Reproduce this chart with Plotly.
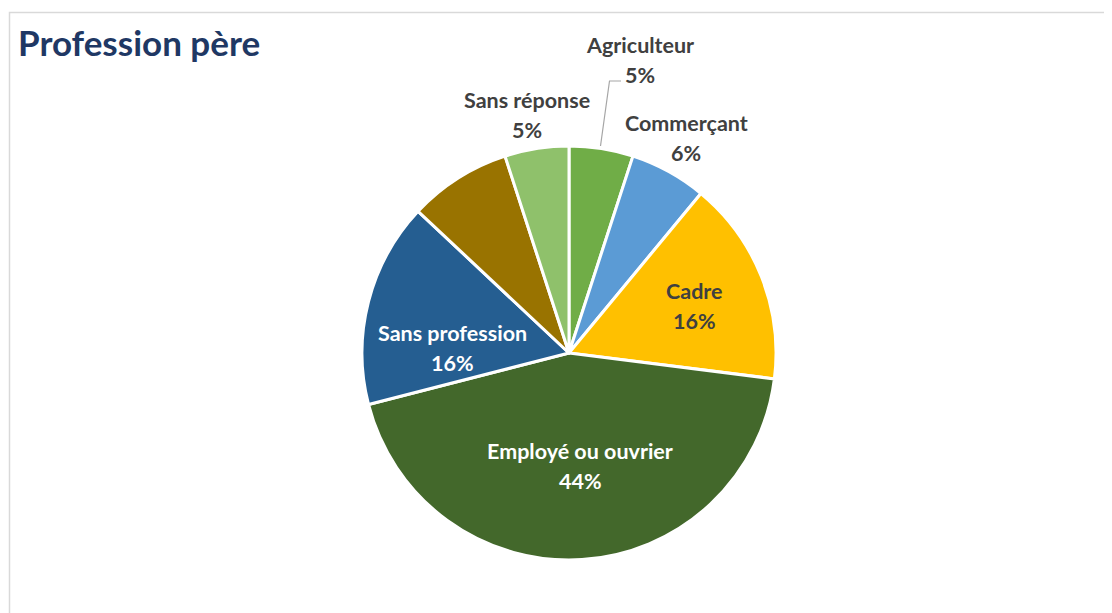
import plotly.graph_objects as go

labels = ['Agriculteur', 'Commerçant', 'Cadre', 'Employé ou ouvrier',
          'Sans profession', 'Autre', 'Sans réponse']
values = [5, 6, 16, 44, 16, 8, 5]
colors = ['#70AD47', '#5B9BD5', '#FFC000', '#43682B',
          '#255E91', '#997300', '#8FC16B']
shown = [True, True, True, True, True, False, True]

W, H = 1112, 613
OFF = 8  # page body margin
FONT = 'Lato'


def px(x, y):
    return (x - OFF) / W, 1 - (y - OFF) / H


fig = go.Figure()
dx0, dy0 = px(362, 560)
dx1, dy1 = px(776, 146)
fig.add_trace(go.Pie(
    labels=labels,
    values=values,
    sort=False,
    direction='clockwise',
    rotation=0,
    textinfo='none',
    hoverinfo='label+percent',
    marker=dict(colors=colors, line=dict(color='white', width=3)),
    domain=dict(x=[dx0, dx1], y=[dy0, dy1]),
    showlegend=False,
))

# label anchors (centre of the name line), text colour
label_pos = {
    'Agriculteur': (640, 45, '#404040'),
    'Commerçant': (686, 123, '#404040'),
    'Cadre': (694, 291, '#404040'),
    'Employé ou ouvrier': (580, 451, 'white'),
    'Sans profession': (452, 333, 'white'),
    'Sans réponse': (527, 100, '#404040'),
}

total = sum(values)
annotations = []
for name, val, show in zip(labels, values, shown):
    if not show:
        continue
    x, y, col = label_pos[name]
    for txt, dy in ((name, 0), (f'{round(100 * val / total)}%', 30)):
        ax, ay = px(x, y + dy)
        annotations.append(dict(
            x=ax, y=ay, xref='paper', yref='paper', text=f'<b>{txt}</b>',
            showarrow=False, xanchor='center', yanchor='middle',
            font=dict(family=FONT, size=21.5, color=col)))

tx, ty = px(16, 42)
annotations.append(dict(
    x=tx, y=ty, xref='paper', yref='paper', text='<b>Profession père</b>',
    showarrow=False, xanchor='left', yanchor='middle',
    font=dict(family=FONT, size=35, color='#1F3864')))

# leader line for Agriculteur
lx0, ly0 = px(600.5, 146)
lx1, ly1 = px(609.5, 81)
lx2, ly2 = px(621, 81)
bx0, by1 = px(9.5, 12.5)
shapes = [
    dict(type='path', xref='paper', yref='paper',
         path=f'M {lx0},{ly0} L {lx1},{ly1} L {lx2},{ly2}',
         line=dict(color='#A6A6A6', width=1.2)),
    dict(type='rect', xref='paper', yref='paper',
         x0=bx0, y0=-0.05, x1=1.05, y1=by1,
         line=dict(color='#D9D9D9', width=1.5), fillcolor='rgba(0,0,0,0)'),
]

fig.update_layout(
    width=W, height=H,
    margin=dict(l=0, r=0, t=0, b=0),
    paper_bgcolor='white',
    plot_bgcolor='white',
    font=dict(family=FONT),
    annotations=annotations,
    shapes=shapes,
)

fig.write_html('out.html')
